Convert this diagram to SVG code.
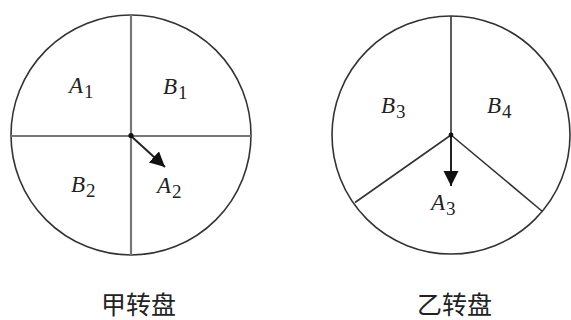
<svg xmlns="http://www.w3.org/2000/svg" width="571" height="320" viewBox="0 0 571 320">
<style>
.rim{fill:none;stroke:#333;stroke-width:1.6}
.div1{stroke:#777;stroke-width:2.2}
.div2{stroke:#333;stroke-width:1.6}
.ptr{stroke:#222;stroke-width:2;fill:none}
.lbl{font-family:"Liberation Serif","Times New Roman",serif;font-style:italic;font-size:23px;fill:#222}
.sub{font-style:normal;font-size:19px}
.cap{font-family:"Noto Sans CJK SC",sans-serif;font-size:25px;fill:#222}
</style>
<defs>
<marker id="ah" markerUnits="userSpaceOnUse" markerWidth="16" markerHeight="16" viewBox="0 0 16 16" refX="15" refY="7.5" orient="auto">
<path d="M0,0 L15,7.5 L0,15 z" fill="#111"/>
</marker>
</defs>
<g id="wheel-jia">
<circle class="rim" cx="131" cy="135" r="120"/>
<line class="div1" x1="131" y1="15" x2="131" y2="255"/>
<line class="div1" x1="11" y1="136" x2="251" y2="136"/>
<text class="lbl" x="69" y="93">A<tspan class="sub" dx="1" dy="5">1</tspan></text>
<text class="lbl" x="163" y="94">B<tspan class="sub" dx="1" dy="5">1</tspan></text>
<text class="lbl" x="71" y="192">B<tspan class="sub" dx="1" dy="5">2</tspan></text>
<text class="lbl" x="157" y="193">A<tspan class="sub" dx="1" dy="5">2</tspan></text>
</g>
<g id="wheel-yi">
<circle class="rim" cx="451" cy="135" r="119"/>
<line class="div2" x1="451" y1="16" x2="451" y2="135"/>
<line class="div2" x1="451" y1="135" x2="355" y2="202.5"/>
<line class="div2" x1="451" y1="135" x2="542.5" y2="211.5"/>
<text class="lbl" x="381" y="113">B<tspan class="sub" dx="1" dy="5">3</tspan></text>
<text class="lbl" x="487" y="113">B<tspan class="sub" dx="1" dy="5">4</tspan></text>
<text class="lbl" x="431" y="210">A<tspan class="sub" dx="1" dy="5">3</tspan></text>
</g>
<g id="connectors">
<line class="ptr" x1="131" y1="136" x2="165" y2="167" marker-end="url(#ah)"/>
<line class="ptr" x1="451" y1="135" x2="451" y2="186" marker-end="url(#ah)"/>
</g>
<g id="hubs">
<circle cx="131" cy="135.5" r="2.6" fill="#111"/>
<circle cx="451" cy="135" r="2.4" fill="#111"/>
</g>
<g id="captions">
<text class="cap" x="101" y="314">甲转盘</text>
<text class="cap" x="417" y="314">乙转盘</text>
</g>
</svg>
